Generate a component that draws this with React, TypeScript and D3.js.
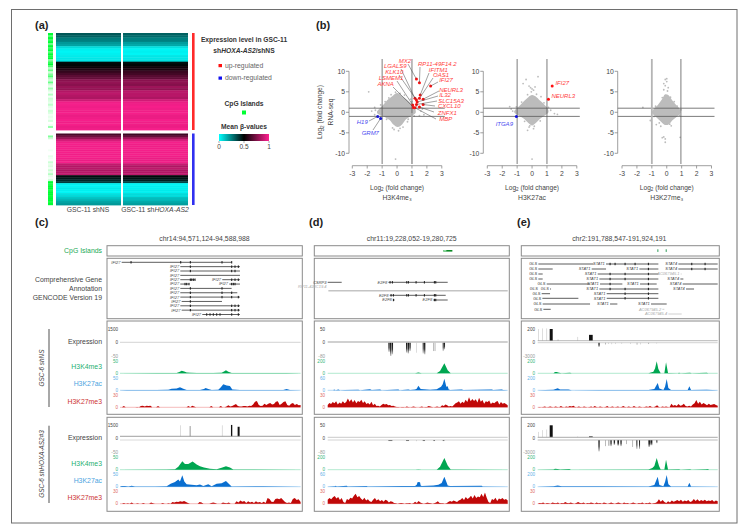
import React from "react";
import * as d3 from "d3";

type P = [number, number];

// ---------- (a) heat map ----------
const heatUpperA = [.33,.31,.26,.25,.2,.18,.07,.03,.02,.03,.04,.05,.05,.48,.49,.52,.56,.6,.64,.68,.7,.77,.79,.77,.8,.79,.85,.87,.85,.84,.9,.97,.98,.97,.98,.97,.98,.96,.97,.98,.97,.98,.96,.97];
const heatUpperB = [.31,.29,.25,.25,.19,.17,.06,.02,.03,.02,.05,.05,.06,.47,.49,.53,.55,.61,.63,.67,.69,.77,.78,.76,.81,.78,.86,.86,.86,.84,.91,.96,.97,.98,.97,.97,.98,.96,.96,.98,.97,.97,.96,.98];
const heatLowerA = [.64,.72,.8,.92,.97,.98,.97,.98,.97,.98,.97,.98,.97,.96,.98,.88,.85,.86,.84,.86,.87,.47,.45,.42,.38,.03,.02,.04,.03,.02,.06,.08,.12,.15,.18,.2];
const heatLowerB = [.62,.7,.82,.93,.98,.97,.97,.97,.98,.97,.98,.97,.96,.96,.97,.89,.84,.87,.84,.85,.87,.48,.46,.44,.36,.02,.03,.03,.04,.03,.07,.07,.13,.14,.17,.19];
const cpgUpper = [1,.7,1,.8,1,.6,1,.8,1,.7,1,.9,1,.5,.8,1,.7,.3,.6,.2,.5,.7,.3,.2,.6,.2,.1,.4,.15,.05,.3,.05,.2,.15,.1,.25,.1,.05,.2,.15,.05,.1,.05,.15,0,.05,.4,0];
const cpgLower = [0,.5,.2,0,0,0,0,0,.05,0,0,.1,.05,.02,.2,.1,.15,.05,.2,.1,.3,.1,.05,.2,1,.9,1,1,.9,1,1,.95,1,1,.9,1];
const columnNames = ["GSC-11 shNS", "GSC-11 shHOXA-AS2"];

// ---------- (b) scatter ----------
const fcTicks = [-3,-2,-1,0,1,2,3];
const rnaTicks = [-10,-5,0,5,10];
const marks = ["H3K4me₃", "H3K27ac", "H3K27me₃"];
const cloudK4: P[] = [[-1.35,.1],[-1.2,.8],[-.95,1.7],[-.65,3],[-.3,4],[0,4.7],[.3,4.1],[.65,3.1],[1,1.9],[1.2,.9],[1.25,-.1],[1,-.8],[.6,-1.7],[.35,-2.9],[.05,-3.6],[-.25,-3],[-.5,-1.9],[-.9,-1],[-1.25,-.5]];
const cloudAc: P[] = [[-1.2,.1],[-1.05,.9],[-.8,1.7],[-.55,2.7],[-.25,3.7],[0,4.2],[.3,3.7],[.55,2.8],[.85,1.8],[1.05,.9],[1.1,0],[.85,-.8],[.5,-1.7],[.25,-2.6],[0,-3.2],[-.25,-2.6],[-.5,-1.7],[-.9,-.8]];
const cloudMe: P[] = [[-.98,-.1],[-.85,.9],[-.6,1.8],[-.35,3],[-.1,4.4],[.1,4.2],[.35,3],[.6,1.9],[.85,.9],[.92,-.1],[.7,-1],[.4,-1.9],[.15,-2.9],[-.1,-3.1],[-.35,-2.4],[-.7,-1.2]];
const strayK4: P[] = [[-1.9,5],[-.1,-11.4],[-.2,-4.2],[.1,-4.5],[-1.5,1.2],[-1.7,.3],[1.7,.8],[1.8,-.6],[1.5,-.8],[-.3,-3.8],[.4,-3.6],[.5,4.2],[-.4,4.3],[.9,3.2],[1,2.6],[1.3,1.5],[1.6,.3],[-1.5,-.6],[.7,-2.3],[-.7,-1.7],[-1.1,1.8],[-.8,2.6],[-.55,3.5],[.75,-1.7],[1.15,-.9],[-1.45,.5],[-1.1,-1],[.2,-3.9],[-.1,4.9],[.2,4.6]];
const strayAc: P[] = [[-.4,8],[.4,8.7],[-.1,6],[0,5.7],[-.2,6.4],[.1,5.4],[-.6,7],[.2,6.2],[1.5,-.3],[1.7,-.5],[-1.5,1.4],[-1.4,.8],[-.3,-4.4],[.1,-4],[0,-11.4],[-.2,-3.6],[-.05,5],[.6,3.8],[-1.3,.3],[1.25,.5],[-1.05,1.3],[-.7,2.5],[.8,2.3],[1.1,1.2],[-.5,-2.2],[.55,-2.1],[-.15,-3.3],[.15,-3.4],[-.3,4.3],[.3,4.4]];
const strayMe: P[] = [[-.1,8],[0,7.5],[-.2,7],[0,8.2],[.1,6],[-.1,6.5],[-.2,5.5],[.05,5.2],[-1.6,1.2],[-1.1,-2],[-.5,-2.6],[-.7,-3],[-.2,-6],[-.1,-6.5],[-.1,-7.3],[-.3,-6.2],[.9,-6.1],[.3,-3.3],[-.4,-3.4],[.2,-2.9],[-.75,1.5],[.7,1.5],[.95,.6],[.85,-.7],[-.85,-1],[-.3,3.6],[.25,3.7],[.5,2.6]];
const upK4: P[] = [[1.3,8.1],[1.5,7.2],[2.25,6.4],[1.55,4.2],[1.75,3.2],[1.5,3.4],[1.2,3.4],[1.3,3],[1.35,2.5],[1.3,1.9],[1.75,1.9],[1.05,1.8],[1.1,1.2],[1.2,1.1],[1.5,1.3]];
const downK4: P[] = [[-1.3,-1],[-1.1,-1.5]];
const upAc: P[] = [[1.35,6.4],[1.1,3.2]];
const downAc: P[] = [[-1.05,-1]];
const geneK4 = ["MX2","RP11-49F14.2","IFI27","IFITM1","NEURL3","OAS1","LGALS9","KLK10","IL32","SLC15A3","CXCL10","LSMEM1","AKNA","MBP","ZNFX1"];
const geneK4Down = ["H19","GRM7"];
const geneAcUp = ["IFI27","NEURL3"];
const geneAcDown = ["ITGA9"];
// label centre x, y and start of leader x, y, in page pixels
const placeK4: number[][] = [[405,61,408,64],[437.3,64,420,67],[446,80.3,438,82],[438.3,70.3,429,73],[451,90,439,91],[441,75.3,433,78],[395.3,65.7,401,69],[394.3,71.7,399,75],[445,95,438,96],[451,100.7,437,101],[449.3,105.7,435,106],[391,77.7,397,81],[385.7,84,393,87],[445.7,119.3,436,119],[447.3,112.7,434,112]];
const placeK4Down: number[][] = [[362.3,121.7,369,121],[370.3,133,373,130]];
const placeAcUp: number[][] = [[562.3,83.3],[563.3,96.3]];
const placeAcDown: number[][] = [[504.3,124.3]];

// ---------- (c,d,e) genes: [label, from, to, row, exons] in reference units ----------
type Gene = [string, number, number, number, number[], boolean?];
const genesC: Gene[] = [
  ["IFI27",365,695,0,[393,542,571,666,695]],["IFI27",541,720,1,[571,695,705,715]],["IFI27",541,720,2,[571,695,705]],["IFI27",541,720,3,[]],
  ["IFI27",541,585,4,[571,575,580,585]],["IFI27",667,720,4,[695,705,715]],["IFI27",541,567,5,[555,560,567]],["IFI27",688,720,5,[695,700,705]],
  ["IFI27",541,695,6,[571,666]],["IFI27",541,712,7,[571,666,695]],["IFI27",541,720,8,[571,666,695,715]],["IFI27",545,666,9,[571]],
  ["IFI27",541,720,10,[571,695,705,715]],["IFI27",545,720,11,[571,695,705,715]],["IFI27",607,720,12,[620,630,640,650,660,695,715]],
];
const genesD: Gene[] = [
  ["CSRP3",68,110,0,[]],["E2F8",250,428,0,[255,262,305,310,333,358,388,392]],
  ["RP11-428C19.4",68,68,1,[],true],["",70,608,2,[],true],
  ["E2F8",254,422,3,[258,265,305,310,333,358,388,392]],["E2F8",264,269,4,[265]],["E2F8",385,428,4,[388,392]],
];
const genesE: Gene[] = [
  ["GLS",70,235,0,[]],["STAT1",273,430,0,[285,300,330,360,400]],["STAT4",490,608,0,[530,570]],
  ["GLS",70,113,1,[]],["STAT1",230,273,1,[]],["STAT1",373,430,1,[400]],["STAT4",490,608,1,[530,570]],
  ["GLS",70,83,2,[]],["STAT1",248,430,2,[285,330,400]],["AC067945.1",497,500,2,[],true],
  ["GLS",70,83,3,[]],["STAT1",253,430,3,[285,330,400]],["STAT4",496,505,3,[]],
  ["GLS",95,225,4,[]],["STAT1",255,322,4,[285]],["STAT1",375,425,4,[400]],["STAT4",503,608,4,[]],
  ["GLS",72,72,5,[]],["GLS",105,108,5,[]],["STAT1",253,430,5,[285,330,400]],["STAT4",513,537,5,[]],
  ["GLS",80,105,6,[]],["STAT1",275,430,6,[330,400]],
  ["GLS",82,190,7,[]],["STAT1",275,430,7,[330,400]],
  ["GLS",83,225,8,[]],["STAT1",285,307,8,[]],["STAT1",408,455,8,[]],
  ["GLS",85,107,9,[]],["AC067945.2",442,448,9,[],true],
  ["AC067945.4",460,500,10,[],true],
];

// ---------- tracks: [reference x, value] ----------
const cK4Ns: P[] = [[360,0],[470,1],[530,1],[538,5],[545,11],[553,7],[560,3],[570,2],[590,1],[620,1],[640,1],[665,2],[672,8],[678,13],[685,6],[695,1],[860,1],[900,0]];
const cAcNs: P[] = [[360,0],[380,1],[400,1],[470,1],[505,2],[515,6],[530,7],[540,13],[550,6],[560,1],[600,1],[612,5],[617,10],[625,5],[635,1],[655,2],[662,12],[670,25],[680,20],[690,18],[697,3],[720,1],[850,1],[860,5],[870,1],[900,0]];
const cMeNs = [0,0,3,0,0,0,0,0,0,1,0,3,4,2,4,3,4,0,0,0,3,0,0,0,0,0,0,0,0,0,0,0,0,0,0,0,3,0,4,2,0,0,0,0,0,0,0,0,3,0,0,0,0,3,0,0,2,5,2,3,6,8,3,2,2,3,3,2,4,3,7,14,16,6,3,4,9,6,9,11,7,8,14,15,6,9,13,15,6,4,9,11,6,8,5,6];
const cK4Sh: P[] = [[360,0],[500,1],[525,2],[535,12],[547,35],[555,24],[565,24],[578,34],[590,22],[600,14],[612,9],[630,4],[650,2],[665,8],[678,14],[690,9],[700,1],[900,0]];
const cAcSh: P[] = [[360,0],[365,3],[375,3],[385,1],[395,4],[405,1],[465,1],[500,2],[512,12],[525,20],[535,30],[540,22],[547,48],[553,22],[560,10],[575,8],[590,6],[600,9],[610,3],[625,10],[635,2],[650,12],[665,14],[678,24],[688,10],[695,1],[790,2],[900,0]];
const cMeSh = [0,0,2,0,1,0,3,0,0,1,0,0,2,0,0,0,3,1,0,0,0,0,2,0,0,1,0,4,3,5,4,6,5,7,4,2,0,0,0,0,0,4,3,0,0,0,0,2,3,2,0,0,0,3,2,1,3,0,0,0,6,3,8,5,7,2,6,3,5,2,6,3,4,2,5,2,14,12,5,4,12,13,11,14,9,4,2,3,2,12,14,9,11,4];

const dK4Ns: P[] = [[68,0],[330,1],[340,14],[350,1],[395,1],[405,40],[418,167],[428,50],[437,2],[608,0]];
const dAcNs: P[] = [[68,0],[85,0],[87,4],[92,0],[100,4],[105,0],[120,1],[160,3],[165,0],[195,5],[200,1],[225,4],[230,0],[280,4],[284,0],[310,4],[315,1],[330,4],[335,8],[340,23],[347,6],[375,3],[395,5],[408,18],[413,30],[418,58],[424,18],[428,20],[431,4],[436,2],[470,4],[475,1],[560,4],[565,1],[590,4],[595,1],[608,0]];
const dMeNs = [6,11,8,13,10,15,7,12,9,15,10,13,22,14,20,12,18,10,16,13,19,11,15,8,11,7,14,5,9,3,4,2,6,9,7,8,5,6,3,4,2,1,1,0,1,1,0,2,1,0,1,2,1,0,0,1,2,0,1,1,3,2,1,0,1,2,1,1,5,3,7,5,2,3,2,6,10,12,15,9,14,11,19,13,25,15,21,16,20,12,24,14,18,9,15,13,17,8,12,10,14,16,7,13,9,11,8,5];
const dK4Sh: P[] = [[68,0],[330,1],[340,4],[350,1],[395,1],[405,50],[418,195],[428,70],[437,2],[608,0]];
const dAcSh: P[] = [[68,0],[90,2],[92,5],[95,1],[125,5],[128,1],[185,4],[188,1],[290,3],[330,4],[335,10],[338,23],[345,22],[347,6],[350,4],[385,6],[400,10],[410,18],[418,50],[425,20],[428,6],[435,4],[530,5],[533,1],[608,0]];
const dMeSh = [10,14,11,16,19,13,17,9,14,4,2,12,9,15,13,20,25,16,19,13,9,15,8,11,6,4,10,14,8,11,6,9,5,10,8,3,6,5,2,1,0,1,2,1,0,1,1,2,0,1,5,2,7,3,1,0,1,3,2,1,0,1,3,6,2,1,1,0,1,4,7,5,8,6,4,8,10,14,9,17,12,15,20,13,22,14,18,16,25,17,28,15,4,2,12,9,15,7,13,11,14,10,12,8];

const eK4Ns: P[] = [[68,0],[115,1],[120,22],[125,20],[132,10],[140,2],[165,11],[170,1],[400,1],[415,25],[420,80],[425,200],[430,70],[437,2],[448,2],[453,183],[459,3],[488,2],[492,11],[497,1],[525,8],[530,1],[575,8],[580,1],[608,0]];
const eAcNs: P[] = [[68,0],[115,10],[128,33],[135,15],[160,14],[170,2],[250,6],[400,3],[418,20],[428,122],[433,30],[445,5],[450,60],[455,189],[460,40],[468,4],[518,4],[523,66],[528,6],[575,10],[608,0]];
const eMeNs = [0,1,0,1,2,0,1,2,1,0,2,1,0,3,1,0,2,1,3,2,4,1,0,2,1,0,2,1,0,1,2,0,3,1,0,2,1,0,1,3,0,1,2,0,1,2,0,1,3,1,0,2,1,0,3,1,0,2,1,0,1,2,1,3,1,0,2,5,1,0,2,1,2,1,0,9,4,6,3,8,4,5,9,3,2,4,2,7,10,18,9,14,7,11,8,5,9,6,7,8,6,4];
const eK4Sh: P[] = [[68,0],[115,3],[120,15],[128,12],[135,2],[163,10],[168,1],[400,2],[412,30],[418,60],[425,195],[432,60],[437,2],[448,2],[453,165],[459,3],[492,8],[497,1],[525,6],[530,1],[572,9],[578,11],[583,1],[608,0]];
const eAcSh: P[] = [[68,0],[115,8],[128,20],[140,6],[250,6],[400,3],[418,30],[428,166],[433,30],[445,6],[450,80],[455,194],[460,40],[468,3],[518,3],[523,66],[528,5],[608,0]];
const eMeSh = [0,2,1,3,0,2,1,0,3,2,1,3,0,2,1,4,2,1,3,1,0,2,4,2,1,3,0,2,1,3,2,0,3,1,2,0,3,2,0,1,3,1,0,2,3,1,0,3,1,2,0,1,3,1,0,2,1,3,0,2,1,3,0,1,2,4,11,5,9,4,2,6,3,8,5,7,9,6,10,5,8,6,9,4,6,12,7,11,6,9,7,10,6,8,7,9,5,8,6];

// expression: [from, to, value]
type Bar = [number, number, number];
const cExpSh: Bar[] = [[542,543,1500],[569,572,1400],[666,667,1500],[693,697,1550],[713,719,1300]];
const dExpNsDown: Bar[] = [[250,254,-55],[255,259,-80],[260,264,-70],[303,307,-60],[308,312,-65],[313,317,-50],[333,334,-60],[353,356,-65],[357,361,-70],[385,387,-50],[389,391,-50],[413,416,-50],[417,420,-40]];
const dExpShDown: Bar[] = [[250,262,-4],[303,312,-4],[333,335,-4],[353,360,-4],[385,390,-4],[413,418,-4]];
const eExpNsUp: Bar[] = [[70,71,200],[82,83,210],[95,96,210],[104,113,200],[128,130,20],[188,189,65],[222,233,100]];
const eExpNsDown: Bar[] = [[250,254,-950],[270,272,-400],[280,281,-300],[290,291,-350],[300,301,-300],[320,321,-250],[345,346,-300],[365,367,-450],[375,376,-400],[400,402,-300],[425,426,-200]];
const eExpShUp: Bar[] = [[70,71,90],[82,83,120],[95,96,130],[104,113,200],[188,189,15],[222,233,15]];
const eExpShDown: Bar[] = [[250,254,-2800],[270,272,-1500],[280,283,-1400],[286,290,-1500],[296,300,-1200],[307,312,-1400],[316,320,-1500],[333,335,-1000],[352,354,-1700],[364,367,-2200],[372,375,-2200],[400,405,-1700],[406,412,-1300],[424,427,-800]];

// tick labels of the tracks
const ticksC = ["1500","0","-50","50","50","30"];
const ticksD = ["50","0","-80","200","60","30"];
const ticksE = ["200","0","-3000","200","200","30"];

const FONT = "'Liberation Sans', Arial, sans-serif";
const GRAY = "#bcbcbc";
const TXT = "#444";
const beta = d3.scaleLinear<string>().domain([0, .5, 1]).range(["#00ffff", "#000000", "#ff2090"]);

const T = (p: any) => <text fontFamily={FONT} fill={TXT} fontSize={7} dy="0.35em" {...p} />;

function Heat({ x, y, w, h, vals }: { x: number; y: number; w: number; h: number; vals: number[] }) {
  const band = d3.scaleBand<number>().domain(d3.range(vals.length)).range([y, y + h]);
  return <g>{vals.map((v, i) => <rect key={i} x={x} y={band(i)} width={w} height={band.bandwidth() + .4} fill={beta(v)} />)}</g>;
}
function Cpg({ y, h, vals }: { y: number; h: number; vals: number[] }) {
  const band = d3.scaleBand<number>().domain(d3.range(vals.length)).range([y, y + h]);
  const col = d3.interpolateRgb("#ffffff", "#00ff33");
  return <g>{vals.map((v, i) => <rect key={i} x={48} y={band(i)} width={5} height={band.bandwidth() + .2} fill={col(v)} />)}</g>;
}

function Scatter({ x0, axisX, cloud, stray, up, down, vDark, vGrayMinus, vGrayPlus, title, showY }: any) {
  const x = d3.scaleLinear().domain([-3, 3]).range([x0, x0 + 89.5]);
  const y = d3.scaleLinear().domain([-10, 10]).range([153.3, 71.3]);
  const poly = d3.line<P>().x(d => x(d[0])).y(d => y(d[1])).curve(d3.curveCatmullRomClosed)(cloud) as string;
  const right = x0 + 92.5;
  const dark = "#5a5a5a";
  return (
    <g>
      <path d={poly} fill={GRAY} />
      {stray.map((d: P, i: number) => <circle key={i} cx={x(d[0])} cy={y(d[1])} r={.9} fill={GRAY} />)}
      {[-1, 1].map(v => <line key={v} x1={axisX} x2={right} y1={y(v)} y2={y(v)} stroke={dark} strokeWidth={.8} />)}
      {vDark.map((v: number) => <line key={v} x1={x(v)} x2={x(v)} y1={59} y2={164} stroke={dark} strokeWidth={.8} />)}
      {vGrayPlus && <g><line x1={x(1)} x2={x(1)} y1={59} y2={113} stroke={dark} strokeWidth={.8} /><line x1={x(1)} x2={x(1)} y1={113} y2={164} stroke="#aaa" strokeWidth={1.8} /></g>}
      {vGrayMinus && <line x1={x(-1)} x2={x(-1)} y1={59} y2={164} stroke="#b5b5b5" strokeWidth={1.8} />}
      <line x1={axisX} x2={axisX} y1={y(10)} y2={y(-10)} stroke="#777" strokeWidth={.7} />
      {rnaTicks.map(t => <g key={t}>
        <line x1={axisX - 3} x2={axisX} y1={y(t)} y2={y(t)} stroke="#777" strokeWidth={.7} />
        <T x={axisX - 4} y={y(t)} textAnchor="end" fontSize={6.8}>{t}</T>
      </g>)}
      <line x1={x(-3)} x2={x(3)} y1={165.7} y2={165.7} stroke="#777" strokeWidth={.7} />
      {fcTicks.map(t => <g key={t}>
        <line x1={x(t)} x2={x(t)} y1={165.7} y2={168.5} stroke="#777" strokeWidth={.7} />
        <T x={x(t)} y={173.5} textAnchor="middle" fontSize={6.8}>{t}</T>
      </g>)}
      <T x={x(0)} y={187.5} textAnchor="middle" fontSize={6.6}>Log<tspan fontSize={4.6} dy={1.5}>2</tspan><tspan dy={-1.5}> (fold change)</tspan></T>
      <T x={x(0)} y={198} textAnchor="middle" fontSize={6.8}>{title}</T>
      {showY && <g>
        <T transform={`translate(320,112) rotate(-90)`} textAnchor="middle" fontSize={6.6}>Log<tspan fontSize={4.6} dy={1.5}>2</tspan><tspan dy={-1.5}> (fold change)</tspan></T>
        <T transform={`translate(331,112) rotate(-90)`} textAnchor="middle" fontSize={6.6}>RNA-seq</T>
      </g>}
      {up.map((d: P, i: number) => <circle key={i} cx={x(d[0])} cy={y(d[1])} r={1.5} fill="#ff1010" />)}
      {down.map((d: P, i: number) => <circle key={i} cx={x(d[0])} cy={y(d[1])} r={1.5} fill="#1010e0" />)}
    </g>
  );
}

function Labels({ x0, pts, names, place, color }: any) {
  const x = d3.scaleLinear().domain([-3, 3]).range([x0, x0 + 89.5]);
  const y = d3.scaleLinear().domain([-10, 10]).range([153.3, 71.3]);
  return <g>{names.map((n: string, i: number) => {
    const [tx, ty, lx, ly] = place[i];
    return <g key={n}>
      {lx !== undefined && <line x1={lx} y1={ly} x2={x(pts[i][0])} y2={y(pts[i][1])} stroke="#444" strokeWidth={.5} />}
      <T x={tx} y={ty} textAnchor="middle" fontStyle="italic" fontSize={6} fill={color}>{n}</T>
    </g>;
  })}</g>;
}

function Genes({ genes, x, rowY }: { genes: Gene[]; x: any; rowY: (r: number) => number }) {
  return <g>{genes.map((g, i) => {
    const [label, a, b, row, exons, muted] = g;
    const col = muted ? "#b8b8b8" : "#222";
    const thickBand = muted && label === "";
    return <g key={i}>
      <line x1={x(a)} x2={x(b)} y1={rowY(row)} y2={rowY(row)} stroke={muted ? "#c4c4c4" : "#333"} strokeWidth={thickBand ? 1.4 : .8} />
      {exons.map((e, j) => <rect key={j} x={x(e) - .5} y={rowY(row) - 1.2} width={1.1} height={2.4} fill={col} />)}
      {label && <T x={x(a) - 1.2} y={rowY(row)} textAnchor="end" fontStyle="italic" fontSize={4} fill={muted ? "#aaa" : "#444"}>{label}</T>}
    </g>;
  })}</g>;
}

function Fill({ pts, x, y0, yTop, max, fill, line }: any) {
  const y = d3.scaleLinear().domain([0, max]).range([y0, yTop]);
  const a = d3.area<P>().x(d => x(d[0])).y0(y0).y1(d => y(d[1]));
  const dom = x.domain();
  return <g>
    <line x1={x(dom[0])} x2={x(dom[1])} y1={y0} y2={y0} stroke={line} strokeWidth={.8} />
    <path d={a(pts) as string} fill={fill} />
  </g>;
}
const bins = (vals: number[], dom: number[]): P[] => vals.map((v, i) => [dom[0] + i * (dom[1] - dom[0]) / (vals.length - 1), v]);

function Bars({ bars, x, base, edge, max }: any) {
  const y = d3.scaleLinear().domain([0, max]).range([base, edge]);
  return <g>{bars.map((b: Bar, i: number) => {
    const w = x(b[1]) - x(b[0]);
    const t = y(b[2]);
    const fill = w < 1 ? "#999" : b[2] < 0 ? "url(#fade)" : "#111";
    return <rect key={i} x={x(b[0])} y={Math.min(t, base)} width={w} height={Math.abs(t - base)} fill={fill} />;
  })}</g>;
}

function TrackBox({ x, top, bottom, left, right, dy, ticks, k4, ac, me, k4Max, acMax, tickX, children }: any) {
  const rows = [329, 342.3, 356, 361.3, 378.3, 395.3].map(v => v + dy);
  const tickCols = ["#444", "#444", "#999", "#33b57a", "#5fb0e8", "#e06a6a"];
  const z = { k4: 373.3 + dy, ac: 390.3 + dy, me: 407.3 + dy };
  const dom = x.domain();
  return <g>
    <rect x={left} y={top} width={right - left} height={bottom - top} fill="#fff" stroke="#8a8a8a" strokeWidth={1} />
    {children}
    <Fill pts={k4} x={x} y0={z.k4} yTop={361.3 + dy} max={k4Max} fill="#00a651" line="#9fe5c4" />
    <Fill pts={ac} x={x} y0={z.ac} yTop={378.3 + dy} max={acMax} fill="#0a6fd0" line="#a5cff2" />
    <Fill pts={bins(me, dom)} x={x} y0={z.me} yTop={395.3 + dy} max={30} fill="#c00808" line="#f2aaaa" />
    {ticks.map((t: string, i: number) => <T key={i} x={tickX} y={rows[i]} textAnchor="end" fontSize={4.6} fill={tickCols[i]}>{t}</T>)}
    {[z.k4, z.ac, z.me].map((v, i) => <T key={i} x={tickX} y={v} textAnchor="end" fontSize={4.6} fill={tickCols[i + 3]}>0</T>)}
  </g>;
}

const sideRows = [
  { n: "Expression", y: 342, c: TXT }, { n: "H3K4me3", y: 367, c: "#1fb070" }, { n: "H3K27ac", y: 384, c: "#4aa3e0" }, { n: "H3K27me3", y: 401.7, c: "#cc3333" },
  { n: "Expression", y: 438, c: TXT }, { n: "H3K4me3", y: 463.7, c: "#1fb070" }, { n: "H3K27ac", y: 480.7, c: "#4aa3e0" }, { n: "H3K27me3", y: 498, c: "#cc3333" },
];

export default function App() {
  const xC = d3.scaleLinear().domain([360, 902]).range([120, 300.6]);
  const xD = d3.scaleLinear().domain([68, 608]).range([327.7, 507.7]);
  const xE = d3.scaleLinear().domain([68, 608]).range([537.7, 717.7]);
  const rowC = (r: number) => 262.3 + r * 4.35;
  const rowD = (r: number) => [282.3, 287, 290.7, 295.3, 300][r];
  const rowE = (r: number) => [264, 269, 274, 279, 284, 289, 293.7, 298.3, 304, 309.3, 314][r];
  const labels = [["(a)", 35, 25], ["(b)", 316, 25], ["(c)", 35, 222], ["(d)", 309, 222], ["(e)", 517, 222]] as const;
  const panelTop = [[107, 302.3], [314.3, 509.3], [521.3, 719.3]];
  const stops = d3.range(0, 1.01, .125);
  return (
    <svg width={741} height={527} style={{ position: "absolute", left: 0, top: 0 }}>
      <defs>
        <linearGradient id="beta">{stops.map(s => <stop key={s} offset={s} stopColor={beta(s)} />)}</linearGradient>
        <linearGradient id="fade" x1="0" x2="0" y1="0" y2="1"><stop offset="0" stopColor="#111" /><stop offset="0.55" stopColor="#333" /><stop offset="1" stopColor="#ccc" /></linearGradient>
      </defs>
      <rect width={741} height={527} fill="#fff" />
      <rect x={11.5} y={9.5} width={725.5} height={513.5} fill="none" stroke="#6e6e6e" strokeWidth={1} />
      {labels.map(([s, x, y]) => <T key={s} x={x} y={y} fontWeight="bold" fontSize={11} fill="#222">{s}</T>)}

      {/* (a) */}
      <Cpg y={33} h={97} vals={cpgUpper} />
      <Cpg y={133.5} h={71.5} vals={cpgLower} />
      <Heat x={56} y={33} w={65} h={97} vals={heatUpperA} />
      <Heat x={123} y={33} w={65} h={97} vals={heatUpperB} />
      <Heat x={56} y={133.5} w={65} h={71.5} vals={heatLowerA} />
      <Heat x={123} y={133.5} w={65} h={71.5} vals={heatLowerB} />
      <rect x={192} y={33} width={2.6} height={97} fill="#ff2a2a" />
      <rect x={192} y={133.5} width={2.6} height={71.5} fill="#3030f0" />
      <T x={88} y={209.5} textAnchor="middle" fontSize={6.8}>{columnNames[0]}</T>
      <T x={155} y={209.5} textAnchor="middle" fontSize={6.8}>GSC-11 sh<tspan fontStyle="italic">HOXA-AS2</tspan></T>
      <T x={244} y={40} textAnchor="middle" fontSize={6.7} fontWeight="bold" fill="#333">Expression level in GSC-11</T>
      <T x={244} y={50.5} textAnchor="middle" fontSize={6.7} fontWeight="bold" fill="#333">sh<tspan fontStyle="italic">HOXA-AS2</tspan>/shNS</T>
      <rect x={218.5} y={64} width={3.5} height={3.2} fill="#ff1010" />
      <T x={225} y={65.5} fontSize={6.8} fill="#666">up-regulated</T>
      <rect x={218.5} y={76.5} width={3.5} height={3.2} fill="#1010f0" />
      <T x={225} y={78} fontSize={6.8} fill="#666">down-regulated</T>
      <T x={244} y={103.5} textAnchor="middle" fontSize={6.7} fontWeight="bold" fill="#333">CpG Islands</T>
      <rect x={242} y={110.5} width={4} height={4} fill="#00ff33" />
      <T x={244} y={126.5} textAnchor="middle" fontSize={6.7} fontWeight="bold" fill="#333">Mean β-values</T>
      <rect x={219} y={134} width={50} height={7} fill="url(#beta)" />
      {[0, .5, 1].map(v => <g key={v}>
        <line x1={219 + 50 * v} x2={219 + 50 * v} y1={141} y2={143} stroke="#555" strokeWidth={.5} />
        <T x={219 + 50 * v} y={146.5} textAnchor="middle" fontSize={6.5}>{v}</T>
      </g>)}

      {/* (b) */}
      <Scatter x0={352.3} axisX={349} cloud={cloudK4} stray={strayK4} up={upK4} down={downK4} vDark={[-1]} vGrayPlus title={marks[0]} showY />
      <Scatter x0={487.3} axisX={483.3} cloud={cloudAc} stray={strayAc} up={upAc} down={downAc} vDark={[-1, 1]} title={marks[1]} />
      <Scatter x0={622} axisX={617.7} cloud={cloudMe} stray={strayMe} up={[]} down={[]} vDark={[.95]} vGrayMinus title={marks[2]} />
      <Labels x0={352.3} pts={upK4} names={geneK4} place={placeK4} color="#ff3c3c" />
      <Labels x0={352.3} pts={downK4} names={geneK4Down} place={placeK4Down} color="#4a4af0" />
      <Labels x0={487.3} pts={upAc} names={geneAcUp} place={placeAcUp} color="#ff3c3c" />
      <Labels x0={487.3} pts={downAc} names={geneAcDown} place={placeAcDown} color="#4a4af0" />

      {/* (c,d,e) frames */}
      <T x={204.5} y={238.5} textAnchor="middle" fontSize={6.9}>chr14:94,571,124-94,588,988</T>
      <T x={411.7} y={238.5} textAnchor="middle" fontSize={6.9}>chr11:19,228,052-19,280,725</T>
      <T x={619.3} y={238.5} textAnchor="middle" fontSize={6.9}>chr2:191,788,547-191,924,191</T>
      {panelTop.map(([a, b], i) => <g key={i}>
        <rect x={a} y={245.7} width={b - a} height={10.3} fill="#fff" stroke="#8a8a8a" />
        <rect x={a} y={258.3} width={b - a} height={60.4} fill="#fff" stroke="#8a8a8a" />
      </g>)}
      <rect x={xD(415)} y={250} width={xD(442) - xD(415)} height={1.6} fill="#0b8a25" />
      <rect x={xD(415)} y={250} width={xD(424) - xD(415)} height={1.6} fill="#8fdca0" />
      <rect x={xE(427)} y={249.3} width={1} height={2.6} fill="#2a9a55" />
      <rect x={xE(452)} y={249.3} width={1} height={2.6} fill="#2a9a55" />
      <T x={102} y={251} textAnchor="end" fontSize={6.9} fill="#22aa55">CpG Islands</T>
      <T x={102} y={280} textAnchor="end" fontSize={6.9}>Comprehensive Gene</T>
      <T x={102} y={289} textAnchor="end" fontSize={6.9}>Annotation</T>
      <T x={102} y={298} textAnchor="end" fontSize={6.9}>GENCODE Version 19</T>
      {sideRows.map((r, i) => <T key={i} x={102} y={r.y} textAnchor="end" fontSize={6.9} fill={r.c}>{r.n}</T>)}
      <rect x={48} y={329} width={2} height={78} fill="#a8a8a8" />
      <rect x={48} y={425.7} width={2} height={77.3} fill="#a8a8a8" />
      <T transform="translate(42,368) rotate(-90)" textAnchor="middle" fontSize={6.4} fontStyle="italic">GSC-6 shNS</T>
      <T transform="translate(42,464) rotate(-90)" textAnchor="middle" fontSize={6.4} fontStyle="italic">GSC-6 shHOXA-AS2#3</T>

      <Genes genes={genesC} x={xC} rowY={rowC} />
      <Genes genes={genesD} x={xD} rowY={rowD} />
      <Genes genes={genesE} x={xE} rowY={rowE} />

      {/* (c) */}
      <TrackBox x={xC} left={107} right={302.3} top={321} bottom={414.3} dy={0} ticks={ticksC} k4={cK4Ns} ac={cAcNs} me={cMeNs} k4Max={50} acMax={50} tickX={118}>
        <line x1={120} x2={300.6} y1={342.3} y2={342.3} stroke="#c8c8c8" strokeWidth={.8} />
      </TrackBox>
      <TrackBox x={xC} left={107} right={302.3} top={417.3} bottom={511.3} dy={96.4} ticks={ticksC} k4={cK4Sh} ac={cAcSh} me={cMeSh} k4Max={50} acMax={50} tickX={118}>
        <Bars bars={cExpSh} x={xC} base={436.3} edge={425.3} max={1500} />
        <line x1={120} x2={300.6} y1={436.3} y2={436.3} stroke="#888" strokeWidth={.8} />
        <line x1={120} x2={300.6} y1={440} y2={440} stroke="#d0d0d0" strokeWidth={.8} />
      </TrackBox>

      {/* (d) */}
      <TrackBox x={xD} left={314.3} right={509.3} top={321} bottom={414.3} dy={0} ticks={ticksD} k4={dK4Ns} ac={dAcNs} me={dMeNs} k4Max={200} acMax={60} tickX={325}>
        <line x1={327.7} x2={507.7} y1={342} y2={342} stroke="#d0d0d0" strokeWidth={1.8} />
        <Bars bars={dExpNsDown} x={xD} base={342.8} edge={356} max={-80} />
      </TrackBox>
      <TrackBox x={xD} left={314.3} right={509.3} top={417.3} bottom={511.3} dy={96.4} ticks={ticksD} k4={dK4Sh} ac={dAcSh} me={dMeSh} k4Max={200} acMax={60} tickX={325}>
        <line x1={327.7} x2={507.7} y1={437.3} y2={437.3} stroke="#d4d4d4" strokeWidth={1.2} />
        <line x1={327.7} x2={507.7} y1={440} y2={440} stroke="#d4d4d4" strokeWidth={1.2} />
        <Bars bars={dExpShDown} x={xD} base={440.5} edge={452.3} max={-80} />
      </TrackBox>

      {/* (e) */}
      <TrackBox x={xE} left={521.3} right={719.3} top={321} bottom={414.3} dy={0} ticks={ticksE} k4={eK4Ns} ac={eAcNs} me={eMeNs} k4Max={200} acMax={200} tickX={535}>
        <Bars bars={eExpNsUp} x={xE} base={340.7} edge={329} max={200} />
        <Bars bars={eExpNsDown} x={xE} base={342.7} edge={356} max={-3000} />
        <line x1={537.7} x2={717.7} y1={340.7} y2={340.7} stroke="#888" strokeWidth={.6} />
        <line x1={537.7} x2={717.7} y1={342.7} y2={342.7} stroke="#b5b5b5" strokeWidth={.6} />
      </TrackBox>
      <TrackBox x={xE} left={521.3} right={719.3} top={417.3} bottom={511.3} dy={96.4} ticks={ticksE} k4={eK4Sh} ac={eAcSh} me={eMeSh} k4Max={200} acMax={200} tickX={535}>
        <Bars bars={eExpShUp} x={xE} base={437.3} edge={425.3} max={200} />
        <Bars bars={eExpShDown} x={xE} base={440} edge={452.3} max={-3000} />
        <line x1={537.7} x2={717.7} y1={437.3} y2={437.3} stroke="#aaa" strokeWidth={1} />
        <line x1={537.7} x2={717.7} y1={440} y2={440} stroke="#aaa" strokeWidth={.8} />
      </TrackBox>
    </svg>
  );
}
